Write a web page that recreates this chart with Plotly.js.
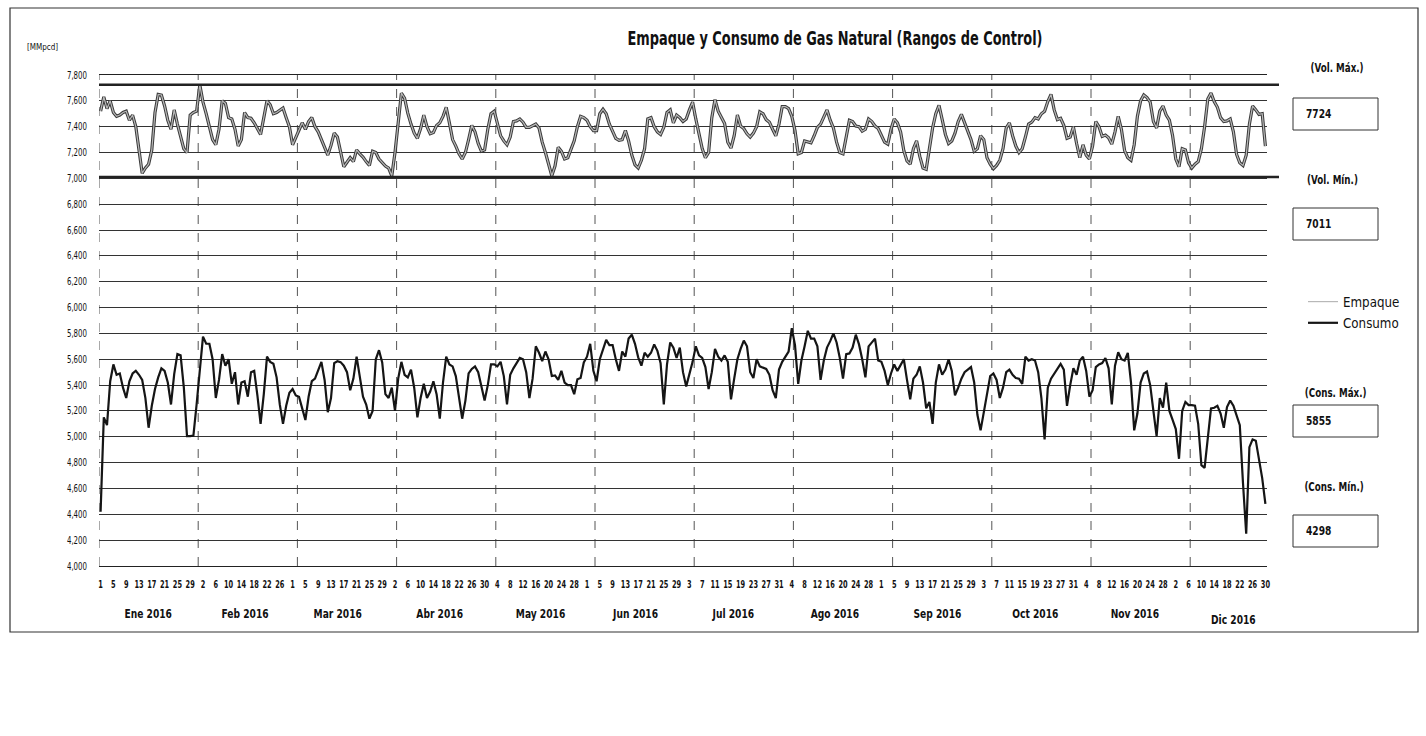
<!DOCTYPE html>
<html><head><meta charset="utf-8">
<script src="https://cdn.plot.ly/plotly-3.0.1.min.js"></script>
<style>html,body{margin:0;padding:0;background:#fff}#c{width:1426px;height:736px}</style>
</head><body><div id="c"></div>
<script>
// ---- Data (daily, Jan 1 – Dec 30, 2016) ----
const empaque = [
7520,7630,7540,7600,7510,7480,7490,7510,7520,7450,7490,7400,7220,7040,7080,7110,7220,7510,7650,7645,7560,7450,7380,7530,7420,7320,7230,7200,7490,7510,7520,
7724,7590,7500,7400,7300,7260,7380,7600,7580,7470,7460,7380,7250,7300,7510,7470,7465,7430,7380,7340,7470,7600,7570,7500,7510,7530,7545,7470,7400,
7260,7320,7370,7430,7380,7440,7470,7400,7360,7300,7250,7180,7255,7350,7320,7190,7090,7125,7160,7130,7220,7190,7165,7130,7100,7210,7200,7150,7120,7095,7080,
7020,7200,7450,7660,7620,7505,7420,7350,7310,7385,7490,7400,7345,7355,7410,7430,7480,7550,7430,7300,7250,7190,7150,7200,7300,7410,7360,7270,7210,7220,
7380,7500,7520,7420,7330,7290,7260,7320,7440,7445,7460,7435,7395,7395,7410,7420,7390,7280,7200,7100,7020,7095,7240,7210,7150,7160,7220,7290,7400,7480,7470,
7450,7400,7370,7370,7500,7535,7500,7420,7360,7310,7295,7300,7370,7290,7180,7105,7080,7140,7230,7460,7470,7400,7360,7340,7395,7510,7530,7430,7490,7470,
7440,7460,7530,7590,7460,7350,7230,7160,7200,7470,7610,7520,7470,7425,7280,7235,7330,7490,7405,7385,7345,7320,7350,7400,7515,7500,7455,7435,7380,7330,7420,
7555,7555,7540,7480,7370,7190,7200,7290,7280,7275,7330,7395,7420,7480,7530,7450,7390,7280,7200,7190,7320,7450,7440,7405,7400,7365,7380,7460,7440,7405,7385,
7330,7280,7265,7380,7460,7430,7360,7215,7135,7110,7230,7290,7170,7080,7070,7250,7390,7500,7565,7455,7340,7270,7290,7350,7440,7495,7435,7360,7300,7210,
7230,7330,7300,7160,7110,7075,7100,7140,7230,7390,7430,7330,7250,7200,7230,7320,7420,7435,7470,7460,7500,7520,7595,7650,7530,7455,7465,7410,7310,7320,7400,
7270,7160,7260,7180,7150,7250,7440,7400,7325,7335,7315,7265,7360,7480,7380,7215,7160,7140,7260,7480,7600,7645,7625,7590,7440,7390,7520,7560,7490,7450,
7330,7150,7090,7230,7220,7120,7080,7110,7130,7230,7400,7615,7660,7595,7550,7470,7440,7445,7460,7360,7185,7120,7100,7180,7420,7560,7530,7495,7500,7250
];
const consumo = [
4420,5150,5090,5430,5560,5480,5490,5380,5300,5430,5490,5510,5480,5440,5300,5070,5240,5370,5460,5530,5510,5420,5250,5485,5640,5630,5385,5005,5005,5010,5250,
5540,5775,5720,5720,5600,5300,5440,5640,5550,5600,5410,5500,5250,5420,5430,5310,5500,5510,5320,5100,5330,5620,5580,5565,5460,5250,5100,5240,5340,
5370,5320,5310,5220,5130,5310,5430,5450,5510,5580,5440,5190,5300,5570,5585,5578,5550,5500,5360,5450,5620,5480,5310,5250,5140,5200,5600,5670,5575,5330,5300,
5380,5200,5450,5580,5480,5460,5520,5380,5150,5300,5410,5300,5350,5430,5330,5140,5420,5620,5560,5545,5470,5300,5140,5280,5490,5525,5545,5500,5400,5280,
5400,5560,5560,5545,5580,5470,5250,5480,5530,5570,5610,5600,5500,5300,5450,5700,5650,5585,5660,5600,5470,5475,5440,5510,5420,5400,5400,5330,5445,5455,5575,
5620,5720,5510,5430,5600,5680,5750,5710,5710,5600,5510,5660,5620,5760,5790,5720,5615,5550,5650,5620,5650,5715,5665,5570,5250,5560,5730,5690,5610,5690,
5500,5390,5480,5580,5700,5630,5610,5540,5370,5500,5680,5620,5590,5630,5580,5290,5450,5600,5680,5745,5700,5500,5455,5600,5545,5535,5525,5480,5360,5300,5520,
5580,5620,5660,5840,5710,5410,5590,5700,5820,5760,5760,5700,5440,5590,5690,5740,5800,5730,5610,5450,5640,5645,5690,5790,5715,5600,5460,5700,5730,5760,5590,
5580,5510,5400,5490,5560,5510,5560,5600,5440,5290,5450,5480,5545,5420,5220,5270,5100,5420,5560,5480,5520,5600,5510,5320,5380,5450,5500,5520,5540,5420,
5170,5050,5200,5320,5470,5490,5440,5300,5380,5500,5520,5480,5455,5450,5410,5620,5590,5600,5590,5500,5300,4980,5380,5450,5490,5530,5565,5520,5240,5400,5530,
5480,5590,5620,5510,5310,5360,5540,5560,5570,5610,5530,5250,5550,5655,5600,5590,5650,5420,5050,5180,5420,5490,5505,5400,5200,5005,5300,5225,5420,5200,
5130,5060,4830,5200,5270,5245,5245,5240,5100,4780,4760,4990,5220,5225,5240,5180,5070,5230,5280,5240,5170,5090,4640,4250,4920,4980,4970,4830,4680,4480
];
const volMax = 7724, volMin = 7011, consMax = 5855, consMin = 4298;
const tickLabels = [
"1","5","9","13","17","21","25","29",
"2","6","10","14","18","22","26",
"1","5","9","13","17","21","25","29",
"2","6","10","14","18","22","26","30",
"4","8","12","16","20","24","28",
"1","5","9","13","17","21","25","29",
"3","7","11","15","19","23","27","31",
"4","8","12","16","20","24","28",
"1","5","9","13","17","21","25","29",
"3","7","11","15","19","23","27","31",
"4","8","12","16","20","24","28",
"2","6","10","14","18","22","26","30"
];
const monthLabels = ["Ene 2016","Feb 2016","Mar 2016","Abr 2016","May 2016","Jun 2016","Jul 2016","Ago 2016","Sep 2016","Oct 2016","Nov 2016","Dic 2016"];

// ---- Layout helpers ----
const L=99, R=1267, T=75, B=566, W=1426, H=736;
const px = x => (x-L)/(R-L);
const py = y => (B-y)/(B-T);
const FONT = "'DejaVu Sans', sans-serif";

const days = empaque.map((_,i)=>i+1);
const tickVals = tickLabels.map((_,i)=>1+4*i);

const traces = [
  {x:days, y:empaque, type:'scatter', mode:'lines', line:{color:'#3a3a3a', width:3.2}, showlegend:false, hoverinfo:'skip'},
  {x:days, y:empaque, type:'scatter', mode:'lines', name:'Empaque', line:{color:'#b8b8b8', width:1.2}},
  {x:days, y:consumo, type:'scatter', mode:'lines', name:'Consumo', line:{color:'#151515', width:2.2}}
];

const shapes = [];
for (let k=0;k<=11;k++){
  shapes.push({type:'line', xref:'x', yref:'paper', x0:31*k+0.5, x1:31*k+0.5, y0:0, y1:1, line:{color:'#555', width:1, dash:'dash'}, layer:'below'});
}
[volMax, volMin].forEach(v=>{
  shapes.push({type:'line', xref:'paper', yref:'y', x0:0, x1:px(1279), y0:v, y1:v, line:{color:'#222', width:2.6}});
});
shapes.push({type:'rect', xref:'paper', yref:'paper', x0:px(10), x1:px(1418), y0:py(632), y1:py(8), line:{color:'#333', width:1.2}});

const ann = [];
function txt(t, x, y, opts={}){
  ann.push(Object.assign({text:t, xref:'paper', yref:'paper', x:px(x), y:py(y), showarrow:false, xanchor:'left', yanchor:'middle',
    font:{family:FONT, size:11.5, color:'#111'}}, opts));
}
txt('[MMpcd]', 20, 47, {font:{family:FONT, size:9.5, color:'#111'}});
txt('<b>(Vol. Máx.)</b>', 1300, 68);
txt('<b>(Vol. Mín.)</b>', 1297, 180);
txt('<b>(Cons. Máx.)</b>', 1293, 393);
txt('<b>(Cons. Mín.)</b>', 1293, 487);
function box(v, y0, y1){
  shapes.push({type:'rect', xref:'paper', yref:'paper', x0:px(1293), x1:px(1378), y0:py(y1), y1:py(y0), line:{color:'#333', width:1}});
  txt('<b>'+v+'</b>', 1300, (y0+y1)/2, {font:{family:FONT, size:12, color:'#111'}});
}
box(volMax, 98, 130); box(volMin, 208, 240); box(consMax, 405, 437); box(consMin, 515, 547);
const monthPx = [148,245,338,440,540,635,733,835,937,1035,1135,1233];
monthLabels.forEach((m,i)=>{
  ann.push({text:'<b>'+m+'</b>', xref:'paper', yref:'paper', x:px(monthPx[i]), y:py(i===11?620:614), xanchor:'center', yanchor:'middle', showarrow:false,
    font:{family:FONT, size:12, color:'#111'}});
});

const layout = {
  width:W, height:H, paper_bgcolor:'#fff', plot_bgcolor:'#fff',
  margin:{l:L, r:W-R, t:T, b:H-B, pad:0, autoexpand:false},
  title:{text:'<b>Empaque y Consumo de Gas Natural (Rangos de Control)</b>', x:835/W, xanchor:'center', y:1-38/H, yanchor:'middle',
    font:{family:FONT, size:19, color:'#111'}},
  showlegend:true,
  legend:{x:px(1303), y:py(286), xanchor:'left', yanchor:'top', font:{family:FONT, size:14, color:'#111'}, bgcolor:'rgba(0,0,0,0)',
    tracegroupgap:4, itemwidth:30},
  xaxis:{range:[0.5,365.5], tickmode:'array', tickvals:tickVals, ticktext:tickLabels, showgrid:false, zeroline:false,
    showline:true, linecolor:'#222', linewidth:1.2, mirror:true, ticks:'outside', ticklen:9, tickcolor:'rgba(0,0,0,0)',
    tickangle:0, tickfont:{family:FONT, size:10, color:'#111', weight:'bold'}, automargin:false},
  yaxis:{range:[4000,7800], dtick:200, tick0:4000, tickformat:',d', showgrid:true, gridcolor:'#333', gridwidth:1, zeroline:false,
    showline:false, ticks:'outside', ticklen:9, tickcolor:'rgba(0,0,0,0)', tickfont:{family:FONT, size:10, color:'#111'}, automargin:false},
  shapes:shapes, annotations:ann
};
Plotly.newPlot('c', traces, layout, {staticPlot:true, displayModeBar:false}).then(gd=>{
  // condense the wide fallback font to approximate the narrow original typeface
  gd.querySelectorAll('svg text').forEach(t=>{
    let f = 0.76;
    if (t.closest('.xtick')) f = 0.66;
    else if (t.closest('.ytick')) f = 0.7;
    else if (t.closest('.gtitle') || t.classList.contains('gtitle')) f = 0.68;
    else if (t.closest('.legendtext') || t.classList.contains('legendtext')) f = 0.85;
    const w = t.getComputedTextLength();
    if (w > 0){ t.setAttribute('textLength', (w*f).toFixed(2)); t.setAttribute('lengthAdjust','spacingAndGlyphs'); }
  });
});
</script></body></html>
